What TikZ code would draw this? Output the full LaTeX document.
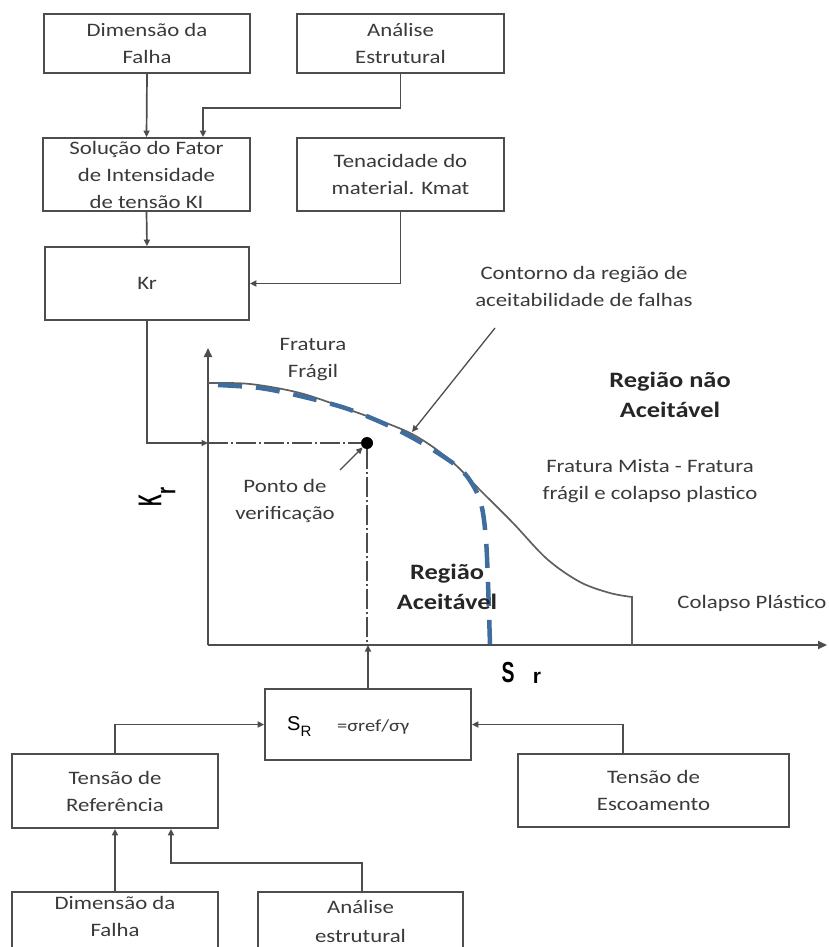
\documentclass[tikz,border=0pt]{standalone}
\usepackage{fontspec}
\setmainfont{Carlito}[FakeStretch=1.2]
\newfontfamily\axfont{Liberation Sans}
\usetikzlibrary{arrows.meta}
\definecolor{txt}{HTML}{3A3A3A}
\definecolor{ln}{HTML}{4D4D4D}
\definecolor{blu}{HTML}{3E6D9E}
\begin{document}
\begin{tikzpicture}[x=1pt,y=-1pt,
  box/.style={draw=ln, line width=1.8pt, fill=white, align=center, text=txt,
    font=\fontsize{19}{27}\selectfont, inner sep=0pt},
  conn/.style={draw=ln, line width=1.7pt, -{Triangle[length=6.5pt,width=6pt]}},
  lbl/.style={align=center, text=txt, font=\fontsize{19}{27}\selectfont, inner sep=0pt},
  blbl/.style={align=center, text=black!85, font=\bfseries\fontsize{22}{30}\selectfont, inner sep=0pt},
  axis/.style={draw=ln, line width=2pt, -{Triangle[length=9pt,width=8pt]}},
  dashdot/.style={draw=ln, line width=1.5pt, dash pattern=on 20pt off 3pt on 2pt off 3pt},
  curve/.style={draw=ln!90, line width=1.7pt},
  bluedash/.style={draw=blu, line width=4.5pt, dash pattern=on 24pt off 14pt}]
\useasboundingbox (0,0) rectangle (829,947);

% top boxes
\node[box, minimum width=206pt, minimum height=59pt] (dim1) at (147,43.5) {Dimensão da\\Falha};
\node[box, minimum width=207pt, minimum height=59pt] (ana1) at (400.5,43.5) {Análise\\Estrutural};
\node[box, minimum width=207pt, minimum height=73pt] (sol) at (146.5,174.5) {Solução do Fator\\de Intensidade\\de tensão KI};
\node[box, minimum width=207pt, minimum height=73pt] (ten) at (400.5,174.5) {Tenacidade do\\material. Kmat};
\node[box, minimum width=204pt, minimum height=73pt] (kr) at (147,283.5) {Kr};

\coordinate (c1) at (203,108);
\draw[conn] (dim1.south) -- (sol.north);
\draw[conn] (ana1.south) |- (c1) -- (c1 |- sol.north);
\draw[conn] (sol.south) -- (kr.north);
\draw[conn] (ten.south) |- (kr.east);

% axes
\coordinate (O) at (208,645);
\coordinate (ytop) at (208,348);
\coordinate (xend) at (827,645);
\draw[axis] (O) -- (ytop);
\draw[axis] (O) -- (xend);

% acceptance curve
\draw[curve] plot[smooth, tension=0.55] coordinates {(208,383) (250,384) (300,393) (350,410) (410,433) (450,460) (480,490) (513,523) (547,559) (580,582) (610,593) (632,597)} -- (632,645);
\draw[bluedash] plot[smooth, tension=0.55] coordinates {(218,385) (260,388) (300,396) (345,408) (385,424) (420,442) (458,467) (474,487) (482,508) (486,540) (488,583) (490,645)};

% verification point
\node[circle, fill=black, inner sep=0pt, minimum size=12pt] (P) at (367,443) {};
\coordinate (krin) at (208,443);
\coordinate (srin) at (367,645);
\draw[conn] (kr.south) |- (krin);
\draw[dashdot] (krin) -- (P.west);
\draw[dashdot] (P.south) -- (srin);

% labels in chart
\node[lbl] (cont) at (584,286) {Contorno da região de\\aceitabilidade de falhas};
\coordinate (a1) at (495,328);
\coordinate (a2) at (412,432);
\draw[conn, line width=1.3pt] (a1) -- (a2);
\node[lbl] (ffrag) at (313,360) {Fratura\\Frágil};
\node[blbl] (rna) at (670,395) {Região não\\Aceitável};
\node[lbl] (fmista) at (650,481) {Fratura Mista - Fratura\\frágil e colapso plastico};
\node[lbl] (colap) at (752,603) {Colapso Plástico};
\node[lbl] (ponto) at (285,501) {Ponto de\\verificação};
\coordinate (p1) at (340,470);
\draw[conn, line width=1.3pt] (p1) -- (P.south west);
\node[blbl] (ra) at (447,587) {Região\\Aceitável};

% axis labels
\node[rotate=90, inner sep=0pt, text=black] (kry) at (157,497)
  {\axfont\bfseries\scalebox{0.5}[1]{\fontsize{33}{33}\selectfont K}\raisebox{-14pt}{\scalebox{0.67}[1]{\fontsize{27}{27}\selectfont r}}};
\node[inner sep=0pt, text=black] (sx) at (508,673) {\axfont\bfseries\scalebox{0.67}[1]{\fontsize{29}{29}\selectfont S}};
\node[inner sep=0pt, text=black] (rx) at (537,678) {\axfont\bfseries\fontsize{21}{21}\selectfont r};

% S_R box
\node[box, minimum width=206pt, minimum height=71pt] (sr) at (368,724.5) {};
\node[inner sep=0pt, text=black, anchor=west] (srlab) at (287,727)
  {\axfont\fontsize{20}{20}\selectfont S\raisebox{-6pt}{\fontsize{15}{15}\selectfont R}};
\node[inner sep=0pt, text=txt, anchor=west] (srform) at (337,727)
  {\fontsize{17}{17}\selectfont =σref/σγ};
\draw[conn] (sr.north) -- (sr.north |- O);

% lower boxes
\node[box, minimum width=206pt, minimum height=74pt] (tref) at (115,791) {Tensão de\\Referência};
\node[box, minimum width=271pt, minimum height=73pt] (tesc) at (653.5,790.5) {Tensão de\\Escoamento};
\node[box, minimum width=206pt, minimum height=76pt] (dim2) at (115,930) {Dimensão da\\Falha\\~};
\node[box, minimum width=205pt, minimum height=86pt] (ana2) at (360.5,935) {Análise\\[2pt]estrutural\\~};

\coordinate (c2) at (623,754);
\coordinate (c3) at (171,863);
\draw[conn] (tref.north) |- (sr.west);
\draw[conn] (c2) |- (sr.east);
\draw[conn] (dim2.north) -- (tref.south);
\draw[conn] (ana2.north -| 362,0) |- (c3) -- (c3 |- tref.south);
\end{tikzpicture}
\end{document}
